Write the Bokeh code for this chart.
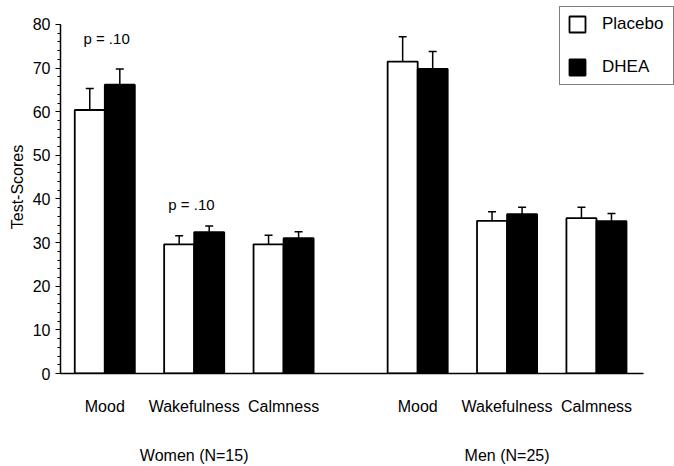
from bokeh.plotting import figure
from bokeh.models import (ColumnDataSource, LinearAxis, FixedTicker, SingleIntervalTicker,
                          Range1d, Whisker, TeeHead, Legend, LegendItem)
from bokeh.embed import file_html
from bokeh.resources import INLINE
from bokeh.core.properties import value

# ---- data ----
categories = ["Mood", "Wakefulness", "Calmness", "Mood", "Wakefulness", "Calmness"]
positions = [0.0, 1.0, 2.0, 3.5, 4.5, 5.5]
groups = ["Women (N=15)", "Men (N=25)"]
group_pos = [1.0, 4.5]
placebo = [60.4, 29.6, 29.6, 71.5, 35.0, 35.6]
placebo_err = [4.9, 2.0, 2.1, 5.7, 2.1, 2.5]
dhea = [66.2, 32.4, 31.0, 69.8, 36.5, 34.9]
dhea_err = [3.6, 1.4, 1.5, 4.0, 1.6, 1.8]
p_labels = ["p = .10", "p = .10"]
p_pos = [0.02, 0.97]
p_y = [76.7, 38.7]

FONT = "Liberation Sans"
BW = 0.336

xp = [x - BW / 2 for x in positions]
xd = [x + BW / 2 for x in positions]

src_p = ColumnDataSource(dict(x=xp, top=placebo, upper=[v + e for v, e in zip(placebo, placebo_err)]))
src_d = ColumnDataSource(dict(x=xd, top=dhea, upper=[v + e for v, e in zip(dhea, dhea_err)]))

p = figure(width=674, height=466, x_range=Range1d(-0.4955, 6.373), y_range=Range1d(0, 85.5),
           output_backend="svg", toolbar_location=None,
           min_border_left=60, min_border_right=0, min_border_top=0, min_border_bottom=93)
p.outline_line_color = None
p.xgrid.visible = False
p.ygrid.visible = False
p.background_fill_color = "white"

# error bars (upward only)
for src in (src_p, src_d):
    w = Whisker(source=src, base="x", lower="top", upper="upper",
                upper_head=TeeHead(size=8, line_width=1.5, line_color="black"),
                lower_head=None, line_width=1.5, line_color="black", level="underlay")
    p.add_layout(w)

r_p = p.vbar(x="x", top="top", width=BW, source=src_p, fill_color="white",
             line_color="black", line_width=1.8)
r_d = p.vbar(x="x", top="top", width=BW, source=src_d, fill_color="black",
             line_color="black", line_width=1.8)

p.text(x=p_pos, y=p_y, text=p_labels, text_align="center", text_baseline="middle",
       text_font=value(FONT), text_font_size="15px", text_color="black")

# y axis
ya = p.yaxis[0]
ya.bounds = (0, 80)
ya.ticker = SingleIntervalTicker(interval=10, num_minor_ticks=5)
ya.axis_label = "Test-Scores"
ya.axis_label_text_font = FONT
ya.axis_label_text_font_size = "16px"
ya.axis_label_text_font_style = "normal"
ya.axis_label_text_color = "black"
ya.axis_label_standoff = 4
ya.major_label_text_font = FONT
ya.major_label_text_font_size = "16px"
ya.major_label_text_color = "black"
ya.major_label_standoff = 5
ya.major_tick_out = 5
ya.major_tick_in = 0
ya.minor_tick_out = 3
ya.minor_tick_in = 0
ya.axis_line_width = 1.5
ya.major_tick_line_width = 1.2
ya.minor_tick_line_width = 1
ya.axis_line_color = "black"
ya.major_tick_line_color = "black"
ya.minor_tick_line_color = "black"

# x axis with category labels
xa = p.xaxis[0]
xa.bounds = (-0.4955, 6.026)
xa.ticker = FixedTicker(ticks=positions)
xa.major_label_overrides = {pos: cat for pos, cat in zip(positions, categories)}
xa.major_tick_line_color = None
xa.minor_tick_line_color = None
xa.major_tick_out = 0
xa.major_tick_in = 0
xa.major_label_standoff = 24
xa.major_label_text_font = FONT
xa.major_label_text_font_size = "16px"
xa.major_label_text_color = "black"
xa.axis_line_width = 1.5
xa.axis_line_color = "black"

# group labels
ga = LinearAxis(ticker=FixedTicker(ticks=group_pos),
                major_label_overrides={pos: g for pos, g in zip(group_pos, groups)},
                axis_line_color=None, major_tick_line_color=None, minor_tick_line_color=None,
                major_tick_out=0, major_tick_in=0, major_label_standoff=29,
                major_label_text_font=FONT, major_label_text_font_size="16px",
                major_label_text_color="black")
p.add_layout(ga, "below")

legend = Legend(items=[LegendItem(label="Placebo", renderers=[r_p]),
                       LegendItem(label="DHEA", renderers=[r_d])],
                location=(499, 288), glyph_width=20, glyph_height=20,
                label_text_font=FONT, label_text_font_size="17px", label_text_color="black",
                label_standoff=15, label_width=64, padding=7, spacing=23, margin=0,
                border_line_color="black", border_line_width=1.5,
                background_fill_color="white", background_fill_alpha=1.0)
p.add_layout(legend)

open("out.html", "w").write(file_html(p, INLINE))
